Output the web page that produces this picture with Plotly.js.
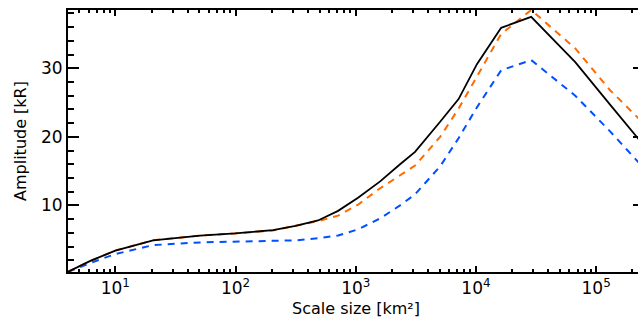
<!DOCTYPE html>
<html>
<head>
<meta charset="utf-8">
<script src="https://cdn.plot.ly/plotly-3.0.1.min.js"></script>
<style>
html, body { margin: 0; padding: 0; overflow: hidden; background: #fff; }
#chart { width: 660px; height: 326px; }
</style>
</head>
<body>
<div id="chart"></div>
<script>
// Scale size [km^2]
const scaleSize = [4.04, 6.2, 10, 20.6, 50.7, 99, 205, 316, 486, 713, 1045, 1596, 2337, 3115, 5035, 7170, 10190, 16200, 28800, 67000, 130500, 250000];
// Amplitude [kR]
const ampBlack  = [0.3, 1.9, 3.4, 4.9, 5.6, 5.9, 6.4, 7.0, 7.8, 9.2, 11.1, 13.5, 16.0, 17.8, 22.2, 25.5, 30.6, 35.9, 37.5, 30.9, 24.7, 18.7];
const ampOrange = [0.3, 1.9, 3.4, 4.9, 5.6, 5.9, 6.35, 7.05, 7.7, 8.5, 10.1, 12.5, 14.4, 15.8, 20.0, 24.1, 28.8, 35.0, 38.5, 32.9, 26.8, 21.9];
const ampBlue   = [0.3, 1.6, 2.9, 4.2, 4.6, 4.7, 4.75, 4.9, 5.2, 5.6, 6.5, 8.1, 10.0, 11.6, 15.7, 19.8, 24.3, 29.7, 31.2, 26.0, 20.8, 15.4];

// Tick labels
const xTickVals = [10, 100, 1000, 10000, 100000];
const xTickText = ['10<sup>1</sup>', '10<sup>2</sup>', '10<sup>3</sup>', '10<sup>4</sup>', '10<sup>5</sup>'];
const yTickVals = [10, 20, 30];
const yTickText = ['10', '20', '30'];

const traces = [
  { x: scaleSize, y: ampBlue, mode: 'lines', line: { color: '#0050ff', width: 2, dash: '7px,6px' }, hoverinfo: 'skip' },
  { x: scaleSize, y: ampOrange, mode: 'lines', line: { color: '#ff6a00', width: 2, dash: '7px,6px' }, hoverinfo: 'skip' },
  { x: scaleSize, y: ampBlack, mode: 'lines', line: { color: '#000000', width: 1.8 }, hoverinfo: 'skip' }
];

const fam = 'DejaVu Sans, sans-serif';

const layout = {
  width: 660, height: 326,
  margin: { l: 68, r: 16, t: 10, b: 54 },
  paper_bgcolor: '#fff', plot_bgcolor: '#fff',
  showlegend: false,
  font: { family: fam, size: 17, color: '#000' },
  xaxis: {
    type: 'log',
    range: [Math.log10(4.04), Math.log10(250000)],
    tickmode: 'array', tickvals: xTickVals, ticktext: xTickText,
    ticks: 'inside', ticklen: 6, tickwidth: 2, tickcolor: '#000',
    minor: { ticks: 'inside', ticklen: 3, tickwidth: 2, tickcolor: '#000', dtick: 'D1', showgrid: false },
    showline: true, linewidth: 2, linecolor: '#000', mirror: 'ticks',
    showgrid: false, zeroline: false,
    tickfont: { family: fam, size: 17 },
    title: { text: 'Scale size [km²]', font: { family: fam, size: 16 }, standoff: 5 }
  },
  yaxis: {
    range: [0.28, 38.5],
    tickmode: 'array', tickvals: yTickVals, ticktext: yTickText,
    ticks: 'inside', ticklen: 11, tickwidth: 2, tickcolor: '#000',
    minor: { ticks: 'inside', ticklen: 6, tickwidth: 2, tickcolor: '#000', dtick: 2, tick0: 0, showgrid: false },
    showline: true, linewidth: 2, linecolor: '#000', mirror: 'ticks',
    showgrid: false, zeroline: false,
    tickfont: { family: fam, size: 17 },
    title: { text: 'Amplitude [kR]', font: { family: fam, size: 16 }, standoff: 10 }
  }
};

Plotly.newPlot('chart', traces, layout, { staticPlot: true, displayModeBar: false });
</script>
</body>
</html>
